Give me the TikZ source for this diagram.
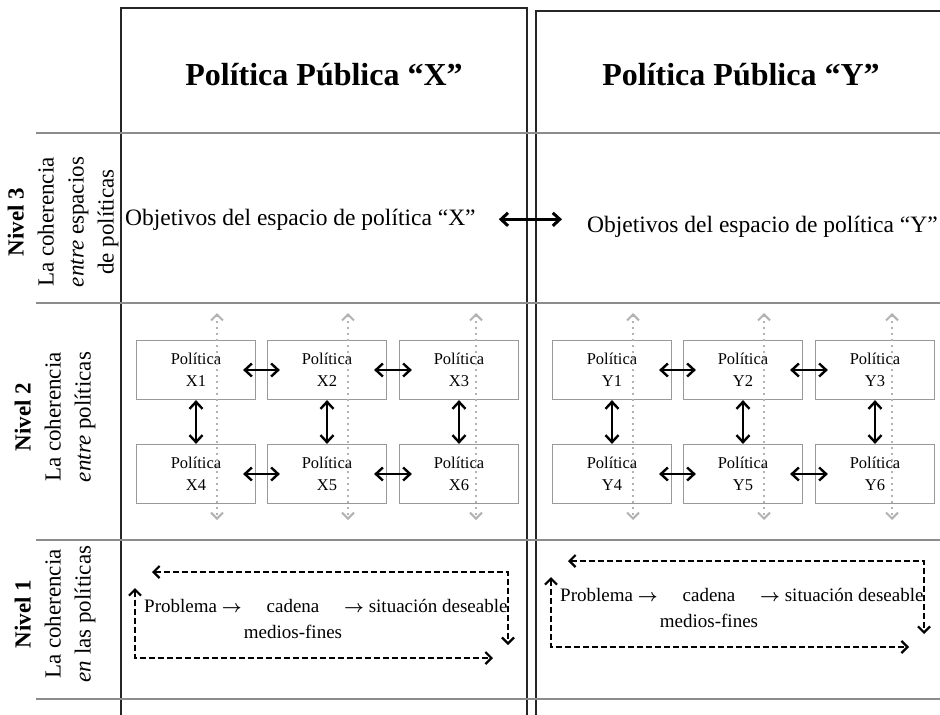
\documentclass[tikz,border=0pt]{standalone}
\usepackage{fontspec}
\setmainfont{Liberation Serif}
\usetikzlibrary{arrows.meta}

\begin{document}
\begin{tikzpicture}[x=1pt, y=-1pt,
	frame/.style={line width=2pt, black!85},
	band/.style={line width=2.2pt, black!45},
	pol/.style={draw=black!40, line width=1.2pt, minimum width=119pt, minimum height=59pt,
		inner sep=0pt, align=center, font=\fontsize{16.5}{22}\selectfont},
	link/.style={line width=2.4pt, {Straight Barb[length=7pt,width=13pt]}-{Straight Barb[length=7pt,width=13pt]}},
	hint/.style={line width=2pt, black!30, dash pattern=on 2pt off 4pt, {Straight Barb[length=6pt,width=12pt]}-{Straight Barb[length=6pt,width=12pt]}},
	feedback/.style={line width=2.2pt, dash pattern=on 6pt off 3pt, {Straight Barb[length=6pt,width=12pt]}-{Straight Barb[length=6pt,width=12pt]}},
	level/.style={rotate=90, align=center, inner sep=0pt, font=\fontsize{23}{30}\selectfont},
	title/.style={anchor=base, font=\fontsize{32}{36}\selectfont\bfseries},
	goal/.style={anchor=base west, inner sep=0pt, font=\fontsize{23.5}{28}\selectfont},
	chain/.style={inner sep=0pt, align=center, font=\fontsize{19}{26}\selectfont}
]
	\useasboundingbox (0,0) rectangle (940,715);

	%% Panel frames
	\draw [frame] (121,715) -- (121,8) -- (527,8) -- (527,715);
	\draw [frame] (536,715) -- (536,11) -- (940,11);

	%% Level bands
	\foreach \y in {133,303,540,699}
		\draw [band] (36,\y) -- (940,\y);

	%% Level labels, rotated
	\node [level] (lvl3) at (63,222) {\textbf{Nivel 3}\\La coherencia\\\textit{entre} espacios\\de políticas};
	\node [level] (lvl2) at (55,417) {\textbf{Nivel 2}\\La coherencia\\\textit{entre} políticas};
	\node [level] (lvl1) at (55,614) {\textbf{Nivel 1}\\La coherencia\\\textit{en} las políticas};

	%% Headers
	\node [title] (headX) at (324,85) {Política Pública “X”};
	\node [title] (headY) at (741,85) {Política Pública “Y”};

	%% Level 3: objectives of each space
	\node [goal] (goalX) at (125,225) {Objetivos del espacio de política “X”};
	\node [goal] (goalY) at (587,232) {Objetivos del espacio de política “Y”};
	\draw [link, line width=3pt, shorten <=23pt, shorten >=25pt] (goalX.east) -- (goalX.east -| goalY.west);

	\foreach \p/\sx/\sy in {X/0/0, Y/416/11} {
		\begin{scope}[xshift=\sx pt]
			%% Level 2: policies of the space
			\node [pol] (\p1) at (196,370) {Política\\\p1};
			\node [pol] (\p2) at (327,370) {Política\\\p2};
			\node [pol] (\p3) at (459,370) {Política\\\p3};
			\node [pol] (\p4) at (196,474) {Política\\\p4};
			\node [pol] (\p5) at (327,474) {Política\\\p5};
			\node [pol] (\p6) at (459,474) {Política\\\p6};

			\foreach \x in {217,348,476}
				\draw [hint] (\x,313) -- (\x,520);

			\foreach \a/\b in {1/2, 2/3, 4/5, 5/6}
				\draw [link, shorten <=-13pt, shorten >=-13pt] (\p\a) -- (\p\b);
			\foreach \a/\b in {1/4, 2/5, 3/6}
				\draw [link] (\p\a) -- (\p\b);

			%% Level 1: problem to desired situation
			\begin{scope}[yshift=\sy pt]
				\node [chain, anchor=base west] (prob\p) at (144,612) {Problema {\boldmath$\rightarrow$}};
				\node [chain] (means\p) at (293,619) {cadena\\medios-fines};
				\node [chain, anchor=base west] (sit\p) at (344,612) {{\boldmath$\rightarrow$} situación deseable};
				\draw [feedback] (152,572) -| (508,645);
				\draw [feedback] (135,588) |- (493,658);
			\end{scope}
		\end{scope}
	}
\end{tikzpicture}
\end{document}
